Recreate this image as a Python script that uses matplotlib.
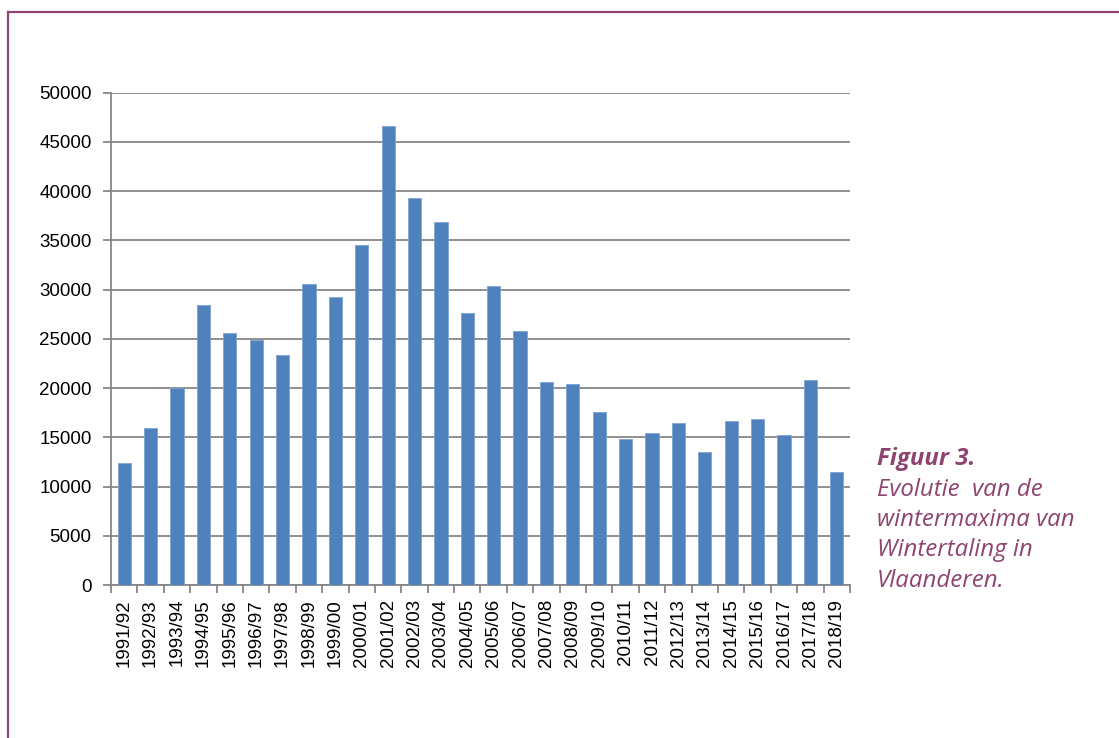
import matplotlib
matplotlib.use("Agg")
import matplotlib.pyplot as plt
from matplotlib.lines import Line2D

seasons = ["1991/92", "1992/93", "1993/94", "1994/95", "1995/96", "1996/97",
           "1997/98", "1998/99", "1999/00", "2000/01", "2001/02", "2002/03",
           "2003/04", "2004/05", "2005/06", "2006/07", "2007/08", "2008/09",
           "2009/10", "2010/11", "2011/12", "2012/13", "2013/14", "2014/15",
           "2015/16", "2016/17", "2017/18", "2018/19"]
maxima = [12400, 15900, 20000, 28400, 25600, 24900,
          23400, 30600, 29300, 34500, 46600, 39300,
          36900, 27600, 30400, 25800, 20600, 20400,
          17600, 14800, 15400, 16500, 13500, 16700,
          16900, 15200, 20800, 11500]
y_ticks = list(range(0, 50001, 5000))

caption_title = "Figuur 3."
caption_lines = ["Evolutie  van de", "wintermaxima van", "Wintertaling in", "Vlaanderen."]

bar_color = "#4f81bd"
grid_color = "#878787"
frame_color = "#8e4470"

plt.rcParams["font.family"] = ["Liberation Sans", "DejaVu Sans"]

fig = plt.figure(figsize=(11.19, 7.38), dpi=100)
ax = fig.add_axes([0.0992, 0.2073, 0.6604, 0.6671])

x = list(range(len(seasons)))
ax.bar(x, maxima, width=0.5, color=bar_color, edgecolor="#7ea3d3",
       linewidth=0.6, zorder=3)

ax.set_xlim(-0.5, len(seasons) - 0.5)
ax.set_ylim(0, 50000)
ax.set_yticks(y_ticks)
ax.set_yticklabels([str(v) for v in y_ticks], fontsize=13.5)
ax.yaxis.grid(True, color=grid_color, linewidth=1.3, zorder=0)

# category labels on the centres, tick marks between the categories
ax.set_xticks(x)
ax.set_xticklabels(seasons, rotation=90, fontsize=13.5)
ax.set_xticks([i - 0.5 for i in range(len(seasons) + 1)], minor=True)
ax.tick_params(axis="x", which="major", length=0, pad=10)
ax.tick_params(axis="x", which="minor", length=6, width=1.3, color=grid_color)
ax.tick_params(axis="y", length=6, width=1.3, color=grid_color, pad=8)

for side in ["top", "right"]:
    ax.spines[side].set_visible(False)
for side in ["left", "bottom"]:
    ax.spines[side].set_color(grid_color)
    ax.spines[side].set_linewidth(1.3)

# caption beside the chart
cap_x = 877 / 1119
ty = 1 - 459 / 738
fig.text(cap_x, ty, caption_title, color=frame_color, fontsize=17.3,
         fontweight="bold", fontstyle="italic", family="Open Sans", va="center")
for i, line in enumerate(caption_lines):
    fig.text(cap_x, ty - (i + 1) * 30.5 / 738, line, color=frame_color,
             fontsize=17.3, fontstyle="italic", family="Open Sans", va="center")

# frame around the figure
fig.add_artist(Line2D([8 / 1119, 1], [1 - 12 / 738, 1 - 12 / 738],
                      transform=fig.transFigure, color=frame_color, linewidth=1.6))
fig.add_artist(Line2D([8 / 1119, 8 / 1119], [0, 1 - 12 / 738],
                      transform=fig.transFigure, color=frame_color, linewidth=1.6))

fig.savefig("out.png", dpi=100, facecolor="white")
